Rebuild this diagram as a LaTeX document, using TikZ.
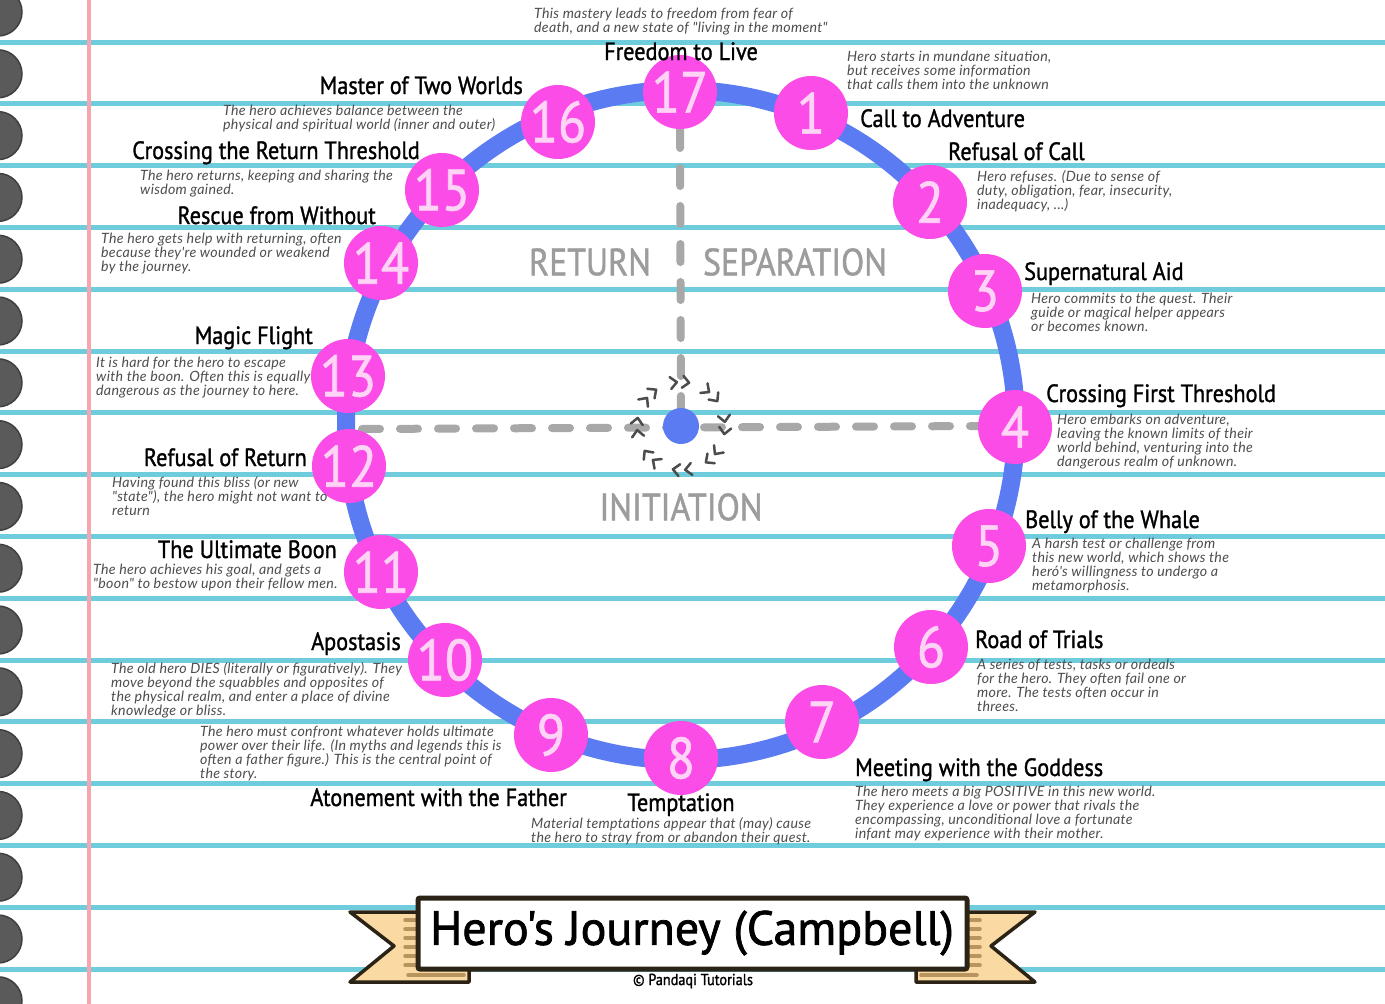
\documentclass[tikz,border=0pt]{standalone}
\usepackage{fontspec}
\setmainfont{Lato}
\newfontfamily\headfont[FakeStretch=0.89, FakeBold=1.2]{PT Sans}
\newfontfamily\bannerfont[FakeBold=1.6]{PT Sans}
\newfontfamily\descfont[LetterSpace=2]{Lato}
\usetikzlibrary{calc}

\definecolor{ruleblue}{HTML}{6FCCDD}
\definecolor{marginpink}{HTML}{F6A5AE}
\definecolor{holegray}{HTML}{5A5A5A}
\definecolor{ringblue}{HTML}{5A7BF2}
\definecolor{stagepink}{HTML}{FB4CE8}
\definecolor{digitpink}{HTML}{FFD3F6}
\definecolor{axisgray}{HTML}{A8A8A8}
\definecolor{labelgray}{HTML}{9C9C9C}
\definecolor{desctext}{HTML}{4E4E4E}
\definecolor{ribbon}{HTML}{FBD9A3}
\definecolor{ribbonline}{HTML}{B8945E}
\definecolor{inkdark}{HTML}{2B2416}

\begin{document}
\begin{tikzpicture}[x=1pt, y=-1pt,
    stage/.style={circle, fill=stagepink, minimum size=74pt, inner sep=0pt, text=digitpink, font=\headfont\fontsize{58}{58}\selectfont},
    title/.style={inner sep=0pt, font=\headfont\fontsize{25}{28}\selectfont},
    desc/.style={inner sep=0pt, anchor=north west, align=left, text=desctext, font=\descfont\fontsize{14.2}{14}\selectfont\itshape},
    phase/.style={inner sep=0pt, text=labelgray, font=\headfont\fontsize{38}{38}\selectfont},
    axis/.style={axisgray, line width=8pt, line cap=round, dash pattern=on 18pt off 20pt},
    chevron/.style={draw=black!70, line width=2.5pt, line cap=round, line join=round},
    ribbonpart/.style={fill=ribbon, draw=inkdark, line width=3.5pt, line join=round}]
    \useasboundingbox (0,0) rectangle (1385,1004);
    \fill[white] (0,0) rectangle (1385,1004);

    % Paper
    \foreach \k in {0,...,15}
        \draw[ruleblue, line width=5pt] (0,42+61.8*\k) -- (1385,42+61.8*\k);
    \foreach \k in {0,...,16}
        \filldraw[fill=holegray, draw=black!75, line width=1.5pt] (-2,12+61.8*\k) circle[radius=24];
    \draw[marginpink, line width=3.5pt] (89,0) -- (89,1004);

    % Axes
    \coordinate (c) at (681,426);
    \coordinate (top) at (680,130);
    \coordinate (west) at (362,429);
    \coordinate (east) at (985,426);
    \draw[axis] (top) -- (c);
    \draw[axis] (west) -- (east);

    % Ring
    \draw[ringblue, line width=18pt] (681,425) circle[radius=335];

    % Stages
    \foreach \n/\x/\y in {17/680/92, 1/811/113, 2/930/202, 3/985/291, 4/1015/427,
        5/989/546, 6/931/647, 7/822/722, 8/681/758, 9/551/735, 10/445/660,
        11/381/572, 12/349/466, 13/348/376, 14/381/263, 15/442/190, 16/558/122}
        \node[stage] (s\n) at (\x,\y) {\n};

    % Titles
    \node[title, anchor=base] (t17) at (681,60) {Freedom to Live};
    \node[title, anchor=base west] (t1) at (860,127) {Call to Adventure};
    \node[title, anchor=base west] (t2) at (948,160) {Refusal of Call};
    \node[title, anchor=base west] (t3) at (1024,280) {Supernatural Aid};
    \node[title, anchor=base west] (t4) at (1046,402) {Crossing First Threshold};
    \node[title, anchor=base west] (t5) at (1025,528) {Belly of the Whale};
    \node[title, anchor=base west] (t6) at (975,648) {Road of Trials};
    \node[title, anchor=base west] (t7) at (855,776) {Meeting with the Goddess};
    \node[title, anchor=base] (t8) at (681,811) {Temptation};
    \node[title, anchor=base east] (t9) at (567,806) {Atonement with the Father};
    \node[title, anchor=base east] (t10) at (401,650) {Apostasis};
    \node[title, anchor=base east] (t11) at (337,558) {The Ultimate Boon};
    \node[title, anchor=base east] (t12) at (307,466) {Refusal of Return};
    \node[title, anchor=base east] (t13) at (313,344) {Magic Flight};
    \node[title, anchor=base east] (t14) at (376,224) {Rescue from Without};
    \node[title, anchor=base east] (t15) at (420,159) {Crossing the Return Threshold};
    \node[title, anchor=base east] (t16) at (523,94) {Master of Two Worlds};

    % Descriptions
    \node[desc] (d17) at (534,8) {This mastery leads to freedom from fear of\\death, and a new state of "living in the moment"};
    \node[desc] (d1) at (847,51) {Hero starts in mundane situation,\\but receives some information\\that calls them into the unknown};
    \node[desc] (d2) at (977,170) {Hero refuses. (Due to sense of\\duty, obligation, fear, insecurity,\\inadequacy, ...)};
    \node[desc] (d3) at (1031,293) {Hero commits to the quest. Their\\guide or magical helper appears\\or becomes known.};
    \node[desc] (d4) at (1057,414) {Hero embarks on adventure,\\leaving the known limits of their\\world behind, venturing into the\\dangerous realm of unknown.};
    \node[desc] (d5) at (1032,538) {A harsh test or challenge from\\this new world, which shows the\\heró's willingness to undergo a\\metamorphosis.};
    \node[desc] (d6) at (977,659) {A series of tests, tasks or ordeals\\for the hero. They often fail one or\\more. The tests often occur in\\threes.};
    \node[desc] (d7) at (855,786) {The hero meets a big POSITIVE in this new world.\\They experience a love or power that rivals the\\encompassing, unconditional love a fortunate\\infant may experience with their mother.};
    \node[desc] (d8) at (531,817) {Material temptations appear that (may) cause\\the hero to stray from or abandon their quest.};
    \node[desc] (d9) at (200,726) {The hero must confront whatever holds ultimate\\power over their life. (In myths and legends this is\\often a father figure.) This is the central point of\\the story.};
    \node[desc] (d10) at (111,662) {The old hero DIES (literally or figuratively). They\\move beyond the squabbles and opposites of\\the physical realm, and enter a place of divine\\knowledge or bliss.};
    \node[desc] (d11) at (93,564) {The hero achieves his goal, and gets a\\"boon" to bestow upon their fellow men.};
    \node[desc] (d12) at (112,476) {Having found this bliss (or new\\"state"), the hero might not want to\\return};
    \node[desc] (d13) at (96,357) {It is hard for the hero to escape\\with the boon. Often this is equally\\dangerous as the journey to here.};
    \node[desc] (d14) at (101,233) {The hero gets help with returning, often\\because they're wounded or weakend\\by the journey.};
    \node[desc] (d15) at (140,170) {The hero returns, keeping and sharing the\\wisdom gained.};
    \node[desc] (d16) at (223,105) {The hero achieves balance between the\\physical and spiritual world (inner and outer)};

    % Phases
    \node[phase] (ret) at (590,262) {RETURN};
    \node[phase] (sep) at (795,262) {SEPARATION};
    \node[phase] (ini) at (681,507) {INITIATION};

    % Centre
    \fill[ringblue] (c) circle[radius=18];
    \foreach \a in {0,45,...,315}
        \foreach \d in {-8,8}
            \draw[chevron, shift={(c)}, rotate=\a+\d] (38,-4.5) -- (44,2) -- (50,-4.5);

    % Banner
    \foreach \side in {0,1}{
        \begin{scope}[xshift=1385pt*\side, xscale=1-2*\side]
            \draw[ribbonpart] (350,912) -- (420,912) -- (420,969) -- (469,969) -- (469,982) -- (350,982) -- (394,946) -- cycle;
            \foreach \y in {920,929,...,966}
                \draw[ribbonline, line width=3.5pt, line cap=round] (405,\y) -- (418,\y);
            \draw[ribbonline, line width=3.5pt, line cap=round] (408,975) -- (464,975);
        \end{scope}
    }
    \filldraw[fill=white, draw=inkdark, line width=5pt, rounded corners=2pt] (418,898) rectangle (967,969);
    \node[inner sep=0pt, font=\bannerfont\fontsize{48}{48}\selectfont] (name) at (692,933) {Hero's Journey (Campbell)};
    \node[inner sep=0pt, font=\headfont\fontsize{16}{16}\selectfont] (credit) at (693,981) {© Pandaqi Tutorials};
\end{tikzpicture}
\end{document}
